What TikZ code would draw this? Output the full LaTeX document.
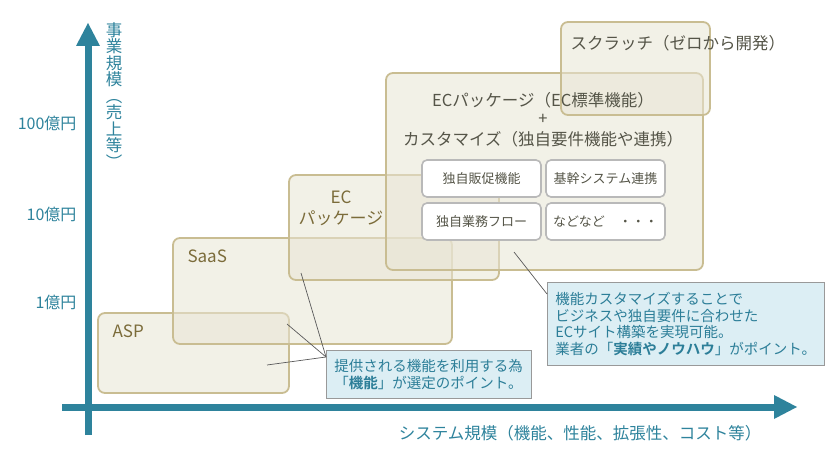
\documentclass[tikz,border=0pt]{standalone}
\usepackage{fontspec}
\setmainfont{Noto Sans CJK JP}[BoldFont={* Bold}]
\begin{document}
\begin{tikzpicture}[x=1pt,y=-1pt,
  axis/.style={line width=7pt,color=axc},
  ax/.style={text=axc,font=\fontsize{16}{19}\selectfont},
  bigbox/.style={draw=bord,line width=1.8pt,fill=boxf,fill opacity=0.55,rounded corners=7pt},
  lab/.style={text=olive1,font=\fontsize{17}{20}\selectfont},
  mtxt/.style={text=dark1,font=\fontsize{16.5}{19}\selectfont},
  small/.style={draw=gray!55,line width=1.6pt,fill=white,rounded corners=5pt,minimum width=119pt,minimum height=37pt,text=dark1,font=\fontsize{13}{15}\selectfont},
  call/.style={draw=gray!80,line width=0.8pt,fill=callf,text=callt,font=\fontsize{14.5}{16.5}\selectfont,align=left,anchor=north west,inner xsep=8pt,inner ysep=4pt},
  lead/.style={draw=gray!70!black,line width=0.7pt}]
\definecolor{axc}{HTML}{2E839C}
\definecolor{bord}{HTML}{C9BD92}
\definecolor{boxf}{HTML}{E8E5D4}
\definecolor{olive1}{HTML}{7B6C3A}
\definecolor{dark1}{HTML}{555548}
\definecolor{callf}{HTML}{DCEEF4}
\definecolor{callt}{HTML}{2C7E98}
\useasboundingbox (0,0) rectangle (837,454);
% axes
\draw[axis] (88,435) -- (88,44);
\fill[axc] (76,46) -- (88,23) -- (100,46) -- cycle;
\draw[axis] (62,407) -- (776,407);
\fill[axc] (774,395) -- (797,407) -- (774,419) -- cycle;
\node[ax,anchor=east] (y100) at (80,123) {100億円};
\node[ax,anchor=east] (y10) at (80,214) {10億円};
\node[ax,anchor=east] (y1) at (80,302) {1億円};
\node[ax,align=center,anchor=north,font=\fontsize{16.5}{16.5}\selectfont,inner sep=0pt] (ytitle) at (114,22) {事\\業\\規\\模\\︵\\売\\上\\等\\︶};
\node[ax,font=\fontsize{16.5}{19}\selectfont] (xtitle) at (580,433) {システム規模（機能、性能、拡張性、コスト等）};
% boxes
\draw[bigbox] (98,313) rectangle (289,393);
\draw[bigbox] (173,238) rectangle (452,344);
\draw[bigbox] (289,175) rectangle (499,280);
\draw[bigbox] (386,73) rectangle (703,270);
\draw[bigbox] (561,22) rectangle (710,115);
\node[lab,anchor=west] (asp) at (109,331) {ASP};
\node[lab,anchor=west] (saas) at (184,256) {SaaS};
\node[lab,align=center,font=\fontsize{17}{21}\selectfont] (ecp) at (341,208) {EC\\パッケージ};
\node[mtxt] (t1) at (543,100) {ECパッケージ（EC標準機能）};
\node[mtxt] (t2) at (543,119) {+};
\node[mtxt] (t3) at (543,139) {カスタマイズ（独自要件機能や連携）};
\node[mtxt,anchor=west] (sc) at (567,43) {スクラッチ（ゼロから開発）};
\node[small] (s1) at (481.5,178.5) {独自販促機能};
\node[small] (s2) at (605.5,178.5) {基幹システム連携};
\node[small] (s3) at (481.5,221.5) {独自業務フロー};
\node[small] (s4) at (605.5,221.5) {などなど\hspace{14pt}・・・};
% callouts
\node[call,minimum width=199pt,minimum height=48pt] (c1) at (326,350) {提供される機能を利用する為\\「\textbf{機能}」が選定のポイント。};
\node[call,minimum width=268pt,minimum height=83pt] (c2) at (547,282) {機能カスタマイズすることで\\ビジネスや独自要件に合わせた\\ECサイト構築を実現可能。\\業者の「\textbf{実績やノウハウ}」がポイント。};
\coordinate (p1) at (287,324);
\coordinate (p2) at (301,273);
\coordinate (p3) at (267,365);
\coordinate (q1) at (514,252);
\coordinate (c1a) at ([yshift=-7pt]c1.north west);
\draw[lead] (c1a) -- (p1);
\draw[lead] (c1a) -- (p2);
\draw[lead] (c1a) -- (p3);
\draw[lead] ([yshift=-12pt]c2.north west) -- (q1);
\end{tikzpicture}
\end{document}
